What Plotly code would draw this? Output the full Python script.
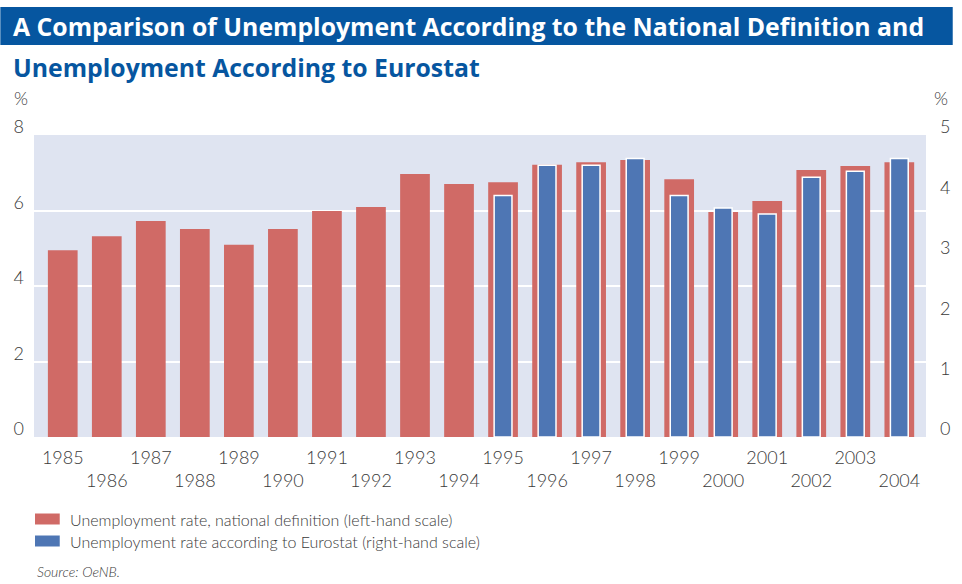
import plotly.graph_objects as go

years = [str(y) for y in range(1985, 2005)]
national = [4.95, 5.32, 5.72, 5.51, 5.09, 5.51, 5.99, 6.09, 6.97, 6.70,
            6.75, 7.21, 7.28, 7.34, 6.83, 5.96, 6.25, 7.07, 7.18, 7.28]
euro_years = [str(y) for y in range(1995, 2005)]
eurostat = [4.00, 4.50, 4.50, 4.61, 4.00, 3.79, 3.69, 4.30, 4.40, 4.61]

left_ticks = [0, 2, 4, 6, 8]
right_ticks = [0, 1, 2, 3, 4, 5]
tick_text = [y if i % 2 == 0 else "<br>" + y for i, y in enumerate(years)]

series_names = ["Unemployment rate, national definition (left-hand scale)",
                "Unemployment rate according to Eurostat (right-hand scale)"]

RED = "#D06A66"
BLUE = "#4E76B4"
NAVY = "#0656A0"
TXT = "#3a3a3a"
FONT = "Lato"
TFONT = "Open Sans"

W, H = 962, 584
ML, MR, MT, MB = 34, 27, 135, 147
PW = W - ML - MR
PH = H - MT - MB


def px(x):
    return (x - ML) / PW


def py(y):
    return (H - MB - y) / PH


fig = go.Figure()
fig.add_trace(go.Bar(
    x=years, y=national, name=series_names[0],
    marker=dict(color=RED, line=dict(width=0)), width=0.675, yaxis="y"))
fig.add_trace(go.Bar(
    x=euro_years, y=eurostat, name=series_names[1],
    marker=dict(color=BLUE, line=dict(color="white", width=1.5)), width=0.405, yaxis="y2"))

tickfont = dict(family=FONT, size=18, color=TXT, weight=300)

fig.update_layout(
    width=W, height=H,
    margin=dict(l=ML, r=MR, t=MT, b=MB, pad=0),
    paper_bgcolor="white", plot_bgcolor="#DFE4F1",
    barmode="overlay",
    font=dict(family=FONT, color=TXT),
    xaxis=dict(type="category", categoryorder="array", categoryarray=years,
               tickvals=years, ticktext=tick_text, tickfont=tickfont,
               showgrid=False, zeroline=False, showline=False, ticks="",
               tickangle=0, range=[-0.653, 19.606], ticklabelstandoff=8),
    yaxis=dict(range=[0, 8], tickvals=left_ticks, tickfont=tickfont,
               showgrid=True, gridcolor="white", gridwidth=1.5,
               zeroline=False, showline=False, ticks="",
               ticklabelstandoff=9, ticklabelshift=-8),
    yaxis2=dict(range=[0, 5], tickvals=right_ticks, tickfont=tickfont,
                overlaying="y", side="right", showgrid=False,
                zeroline=False, showline=False, ticks="",
                ticklabelstandoff=13, ticklabelshift=-8),
    showlegend=False,
)

shapes = [dict(type="rect", x0=px(0), x1=px(962), y0=py(45), y1=py(7),
               fillcolor=NAVY, line=dict(width=0), layer="below")]
legend_rows = [(RED, 519), (BLUE, 541)]
for color, yc in legend_rows:
    shapes.append(dict(type="rect", x0=px(35), x1=px(60), y0=py(yc + 5.5), y1=py(yc - 5.5),
                       fillcolor=color, line=dict(width=0)))
for s in shapes:
    s.update(xref="paper", yref="paper")
fig.update_layout(shapes=shapes)

annotations = [
    dict(text="<b>A Comparison of Unemployment According to the National Definition and</b>",
         x=px(11), y=py(26), xanchor="left", yanchor="middle",
         font=dict(family=TFONT, size=24.8, color="white")),
    dict(text="<b>Unemployment According to Eurostat</b>",
         x=px(11), y=py(67), xanchor="left", yanchor="middle",
         font=dict(family=TFONT, size=24.8, color=NAVY)),
    dict(text="%", x=px(21), y=py(98), xanchor="center", yanchor="middle",
         font=dict(family=FONT, size=18, color=TXT, weight=300)),
    dict(text="%", x=px(950), y=py(98), xanchor="center", yanchor="middle",
         font=dict(family=FONT, size=18, color=TXT, weight=300)),
    dict(text="<i>Source: OeNB.</i>", x=px(35), y=py(571), xanchor="left", yanchor="middle",
         font=dict(family=FONT, size=14, color=TXT, weight=300)),
    dict(text="Chart", x=px(962), y=py(5), xanchor="right", yanchor="bottom",
         font=dict(family=FONT, size=14, color="#555555")),
]
for (color, yc), name in zip(legend_rows, series_names):
    annotations.append(dict(text=name, x=px(68), y=py(yc), xanchor="left", yanchor="middle",
                            font=dict(family=FONT, size=16, color=TXT, weight=300)))
for a in annotations:
    a.update(xref="paper", yref="paper", showarrow=False)
fig.update_layout(annotations=annotations)

fig.write_html(
    "out.html",
    config={"displayModeBar": False},
    post_script=("document.documentElement.style.margin='0';"
                 "document.documentElement.style.overflow='hidden';"
                 "document.body.style.margin='0';"
                 "document.body.style.overflow='hidden';"),
)
